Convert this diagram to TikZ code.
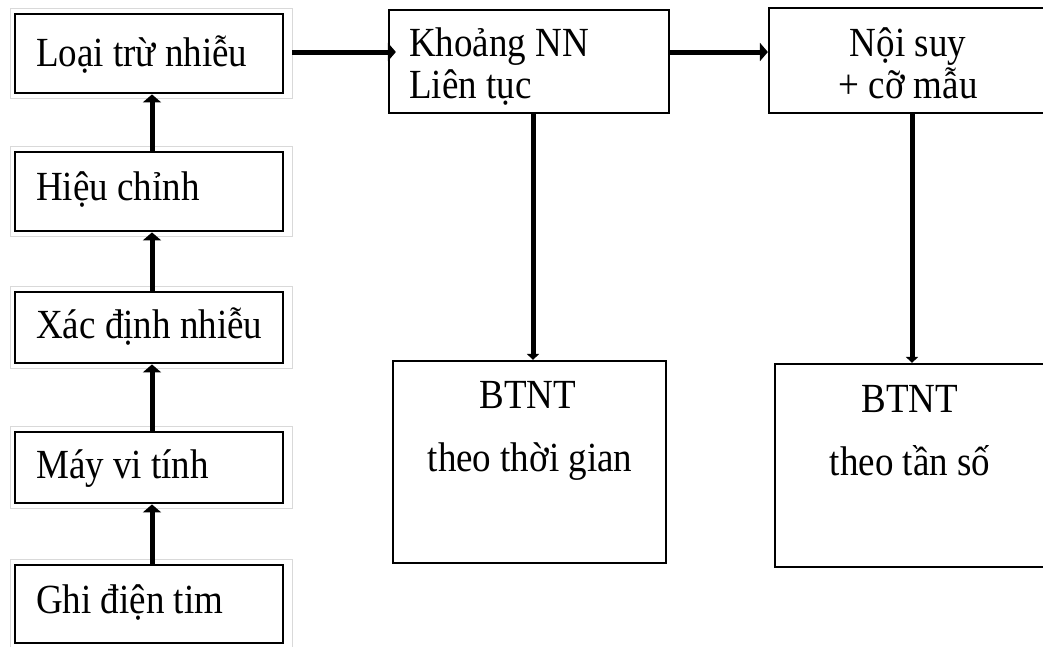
\documentclass[tikz,border=0pt]{standalone}
\usepackage{graphicx}
\usepackage{fontspec}
\setmainfont{Liberation Serif}
\usetikzlibrary{arrows.meta}
\newcommand{\vst}[1]{\scalebox{1}[1.12]{#1}}
\begin{document}
\begin{tikzpicture}[x=1pt,y=-1pt,
  lbox/.style={draw=black,line width=2.8pt,inner sep=0pt,minimum width=268pt,minimum height=#1},
  rbox/.style={draw=black,line width=2.2pt,inner sep=0pt},
  txt/.style={inner sep=0pt,font=\fontsize{37}{42}\selectfont},
  conn/.style={line width=5pt,-{Triangle[length=8pt,width=18pt]}},
  dconn/.style={line width=5pt,-{Triangle[length=6pt,width=12pt]}},
  frame/.style={draw=gray!30,line width=1.3pt}]
\useasboundingbox (0,0) rectangle (1043,646);
\clip (0,0) rectangle (1043,646);
\fill[white] (0,0) rectangle (1043,646);

% left column boxes
\node[lbox=79pt] (b1) at (149,53.5) {};
\node[lbox=79pt] (b2) at (149,191.5) {};
\node[lbox=71pt] (b3) at (149,327.5) {};
\node[lbox=71pt] (b4) at (149,467.5) {};
\node[lbox=78pt] (b5) at (149,604) {};
\foreach \b in {b1,b2,b3,b4,b5}{
  \draw[frame] ([shift={(-3pt,4pt)}]\b.north west) rectangle ([shift={(8pt,-4pt)}]\b.south east);
}
\node[txt,anchor=base west] (t1) at (36,66) {\vst{Loại trừ nhiễu}};
\node[txt,anchor=base west] (t2) at (36,200) {\vst{Hiệu chỉnh}};
\node[txt,anchor=base west] (t3) at (36,338) {\vst{Xác định nhiễu}};
\node[txt,anchor=base west] (t4) at (36,478) {\vst{Máy vi tính}};
\node[txt,anchor=base west] (t5) at (36,613) {\vst{Ghi điện tim}};

% right boxes
\node[rbox,minimum width=280pt,minimum height=103pt] (k) at (529,61.5) {};
\node[rbox,minimum width=277pt,minimum height=105pt] (n) at (907.5,60.5) {};
\node[rbox,minimum width=273pt,minimum height=202pt] (q1) at (529.5,462) {};
\node[rbox,minimum width=271pt,minimum height=203pt] (q2) at (910.5,465.5) {};

\node[txt,anchor=base west] (k1) at (409,56) {\vst{Khoảng NN}};
\node[txt,anchor=base west] (k2) at (409,98) {\vst{Liên tục}};
\node[txt,anchor=base] (n1) at (908,56) {\vst{Nội suy}};
\node[txt,anchor=base] (n2) at (908,98) {\vst{+ cỡ mẫu}};
\node[txt,anchor=base] (q1a) at (528,408) {\vst{BTNT}};
\node[txt,anchor=base] (q1b) at (530,471) {\vst{theo thời gian}};
\node[txt,anchor=base] (q2a) at (910,412) {\vst{BTNT}};
\node[txt,anchor=base] (q2b) at (910,475) {\vst{theo tần số}};

% connectors
\draw[conn] ([xshift=3pt]b5.north) -- ([xshift=3pt]b4.south);
\draw[conn] ([xshift=3pt]b4.north) -- ([xshift=3pt]b3.south);
\draw[conn] ([xshift=3pt]b3.north) -- ([xshift=3pt]b2.south);
\draw[conn] ([xshift=3pt]b2.north) -- ([xshift=3pt]b1.south);
\draw[conn] ([shift={(8pt,1.5pt)}]b1.east) -- ([shift={(8pt,1.5pt)}]b1.east -| k.west);
\draw[conn] ([yshift=9.5pt]k.east) -- ([yshift=9.5pt]k.east -| n.west);
\draw[dconn] ([xshift=4pt]k.south) -- ([xshift=4pt]k.south |- q1.north);
\draw[dconn] ([xshift=4.5pt]n.south) -- ([xshift=4.5pt]n.south |- q2.north);
\end{tikzpicture}
\end{document}
